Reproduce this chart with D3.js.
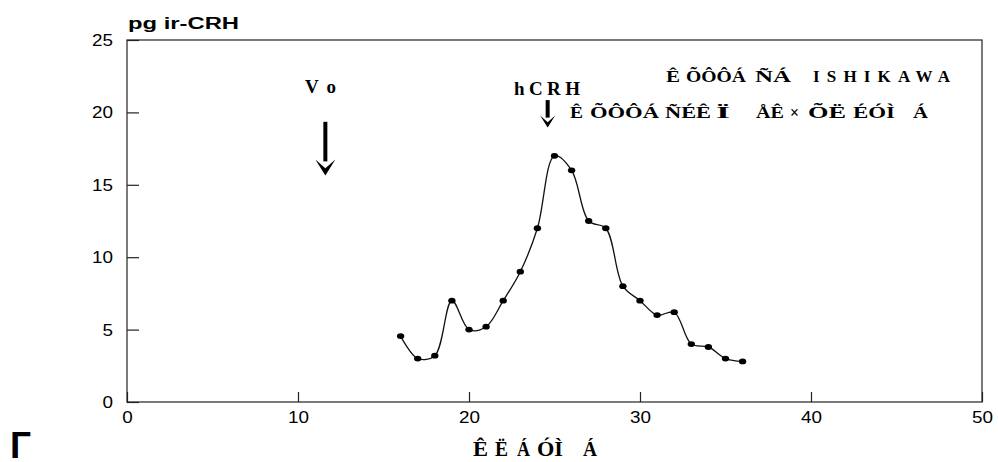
<!DOCTYPE html>
<html><head><meta charset="utf-8">
<script src="https://cdn.jsdelivr.net/npm/d3@7"></script>
<style>
html,body{margin:0;padding:0;background:#fff;}
svg{display:block;}
text{white-space:pre;}
</style></head>
<body>
<svg id="chart" width="998" height="462"></svg>
<script>
// data
const xValues = [16,17,18,19,20,21,22,23,24,25,26,27,28,29,30,31,32,33,34,35,36];
const yValues = [4.55,3.0,3.2,7.0,5.0,5.2,7.0,9.0,12.0,17.0,16.0,12.5,12.0,8.0,7.0,6.0,6.2,4.0,3.8,3.0,2.8];
const xTicks = [0,10,20,30,40,50];
const yTicks = [0,5,10,15,20,25];
const yTitle = "pg ir-CRH";
const xTitleWords = ["Ê","Ë","Á","ÓÌ","Á"];
const cornerMark = "Г";
const legend1Words = ["Ê","ÕÔÔÁ","ÑÁ","ISHIKAWA"];
const legend2Words = ["Ê","ÕÔÔÁ","ÑÉÊ","Ï","ÅÊ","×","ÕË","ÉÓÌ","Á"];
const arrowLabels = ["V o", "hCRH"];
const arrowX = [11.6, 24.6];
const arrowTop = [19.35, 20.85];
const arrowTip = [15.65, 18.95];

// layout (pixel extents of words)
const xTitleSpans = [[473,488],[495,508],[517,530],[537,563],[583,597]];
const legend1Spans = [[666,680],[686,746],[755,791],[813,950]];
const legend2Spans = [[570,583],[590,659],[665,711],[716,730],[756,784],[790,799],[808,846],[853,895],[913,928]];

const svg = d3.select("#chart");
const L = 127, R = 982, T = 40, B = 402;
const x = d3.scaleLinear().domain([0,50]).range([L,R]);
const y = d3.scaleLinear().domain([0,25]).range([B,T]);
const sans = "'Liberation Sans', Arial, sans-serif";
const serif = "'Liberation Serif', 'Times New Roman', serif";

// frame
svg.append("rect").attr("x",L).attr("y",T).attr("width",R-L).attr("height",B-T)
  .attr("fill","none").attr("stroke","#333").attr("stroke-width",1.3);

// axes
const ya = svg.append("g").attr("transform",`translate(${L},0)`)
  .call(d3.axisLeft(y).tickValues(yTicks).tickSizeInner(-12).tickSizeOuter(0).tickPadding(14));
const xa = svg.append("g").attr("transform",`translate(0,${B})`)
  .call(d3.axisBottom(x).tickValues(xTicks).tickSizeInner(-10).tickSizeOuter(0).tickPadding(9));
[ya,xa].forEach(g=>{
  g.select(".domain").remove();
  g.selectAll(".tick line").attr("stroke","#222").attr("stroke-width",1.2);
  g.selectAll(".tick text").attr("fill","#000").style("font-family",sans).style("font-size","17px")
    .attr("textLength",d=>String(d).length*10.5).attr("lengthAdjust","spacingAndGlyphs");
});

// titles
svg.append("text").attr("x",128).attr("y",29).text(yTitle)
  .style("font-family",sans).style("font-weight","bold").style("font-size","16px")
  .attr("textLength",111).attr("lengthAdjust","spacingAndGlyphs");
svg.append("text").attr("x",10).attr("y",458).text(cornerMark)
  .style("font-family",sans).style("font-weight","bold").style("font-size","37px");

function words(list, spans, baseline, size){
  list.forEach((w,i)=>{
    svg.append("text").attr("x",spans[i][0]).attr("y",baseline).text(w)
      .style("font-family",serif).style("font-weight","bold").style("font-size",size+"px")
      .attr("textLength",spans[i][1]-spans[i][0])
      .attr("lengthAdjust", w.length>4 ? "spacing" : "spacingAndGlyphs");
  });
}
words(xTitleWords, xTitleSpans, 456, 21);
words(legend1Words, legend1Spans, 82, 17);
words(legend2Words, legend2Spans, 118, 17);

// arrow labels
const labelPos = [[305,93,31],[514,95,66]];
arrowLabels.forEach((t,i)=>{
  svg.append("text").attr("x",labelPos[i][0]).attr("y",labelPos[i][1]).text(t)
    .style("font-family",serif).style("font-weight","bold").style("font-size","19px")
    .attr("textLength",labelPos[i][2]).attr("lengthAdjust","spacing");
});

// arrows
const headW = [10, 7.5], headH = [16, 12], shaftW = [4, 4];
arrowX.forEach((ax,i)=>{
  const cx = x(ax), y0 = y(arrowTop[i]), y1 = y(arrowTip[i]);
  svg.append("line").attr("x1",cx).attr("x2",cx).attr("y1",y0).attr("y2",y1-headH[i]+2)
    .attr("stroke","#000").attr("stroke-width",shaftW[i]);
  svg.append("path").attr("d",`M${cx-headW[i]},${y1-headH[i]} L${cx},${y1-headH[i]*0.45} L${cx+headW[i]},${y1-headH[i]} L${cx},${y1} Z`)
    .attr("fill","#000");
});

// curve
const pts = xValues.map((v,i)=>[v,yValues[i]]);
const line = d3.line().x(d=>x(d[0])).y(d=>y(d[1])).curve(d3.curveCatmullRom.alpha(0.5));
svg.append("path").datum(pts).attr("d",line).attr("fill","none").attr("stroke","#111").attr("stroke-width",1.3);
svg.append("g").selectAll("ellipse").data(pts).join("ellipse")
  .attr("cx",d=>x(d[0])).attr("cy",d=>y(d[1])).attr("rx",3.7).attr("ry",2.9).attr("fill","#000");
</script>
</body></html>
